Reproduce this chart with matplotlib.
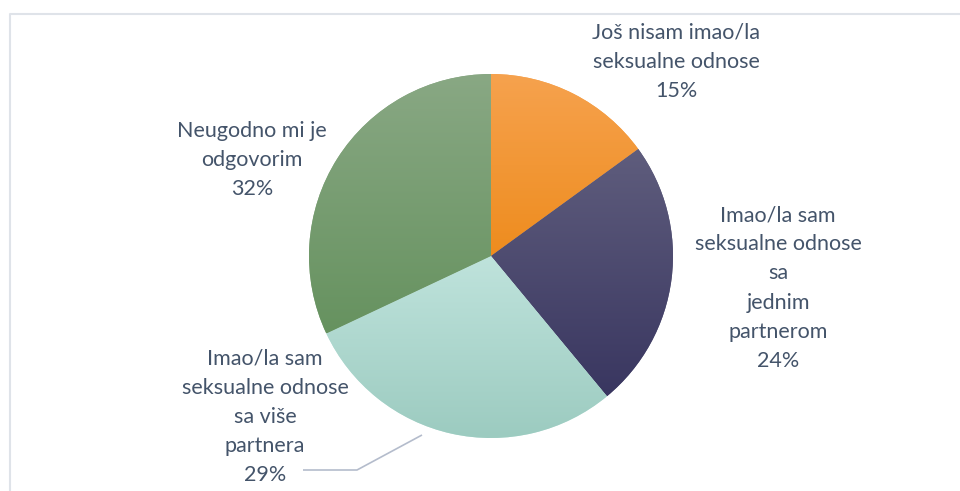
import matplotlib.pyplot as plt
import numpy as np
from matplotlib.colors import LinearSegmentedColormap

plt.rcParams['font.family'] = ['Lato', 'DejaVu Sans']

# Answers, clockwise from 12 o'clock
categories = [
    "Još nisam imao/la\nseksualne odnose",
    "Imao/la sam\nseksualne odnose\nsa\njednim\npartnerom",
    "Imao/la sam\nseksualne odnose\nsa više\npartnera",
    "Neugodno mi je\nodgovorim",
]
shares = [15, 24, 29, 32]

# top / bottom colour of each slice gradient
grad_top = ['#f6a24e', '#5f5d7d', '#bfe3dc', '#89a884']
grad_bot = ['#ee8c1e', '#393660', '#9ccbc0', '#66925f']

text_col = '#44546a'

fig = plt.figure(figsize=(9.6, 4.91), dpi=100)
ax = fig.add_axes([0, 0, 1, 1])

H = 491
cx, cy, r = 491, H - 256, 182

wedges, _ = ax.pie(shares, startangle=90, counterclock=False, center=(cx, cy),
                   radius=r, wedgeprops=dict(edgecolor='none'))

for w, c0, c1 in zip(wedges, grad_top, grad_bot):
    w.set_facecolor(c0)
    ext = w.get_path().get_extents()
    cmap = LinearSegmentedColormap.from_list('g', [c0, c1])
    grad = np.linspace(0, 1, 256).reshape(-1, 1)
    im = ax.imshow(grad, cmap=cmap, aspect='auto', origin='upper',
                   extent=[ext.x0, ext.x1, ext.y0, ext.y1], zorder=2)
    im.set_clip_path(w)

# label positions (pixel coords from top-left)
label_pos = [(676, 62), (778, 288), (265, 417), (252, 160)]
for name, val, (x, y) in zip(categories, shares, label_pos):
    ax.text(x, H - y, f"{name}\n{val}%", ha='center', va='center',
            fontsize=15.5, color=text_col, linespacing=1.57, zorder=4)

# leader line for the lower-left label
ax.plot([303, 357, 422], [H - 470, H - 470, H - 435], color='#b4bccc', lw=1.2,
        zorder=3, solid_capstyle='butt')

# chart frame
ax.plot([10, 10, 960], [0, H - 14, H - 14], color='#dfe3e9', lw=1.5, zorder=1)

ax.set_xlim(0, 960)
ax.set_ylim(0, H)
ax.set_aspect('equal')
ax.axis('off')

fig.savefig('out.png', dpi=100)
